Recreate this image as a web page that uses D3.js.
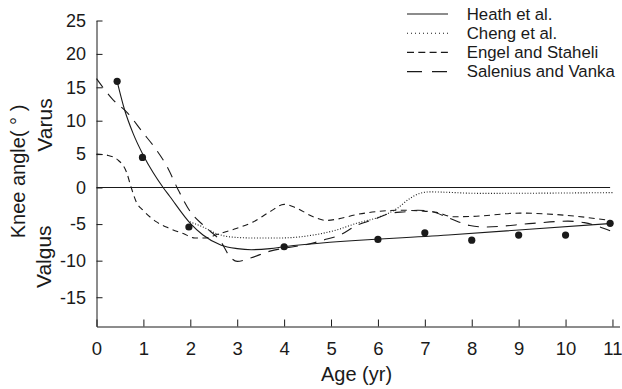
<!DOCTYPE html>
<html>
<head>
<meta charset="utf-8">
<script src="https://cdn.jsdelivr.net/npm/d3@7"></script>
<style>
  body { margin: 0; background: #fff; }
  svg { display: block; font-family: 'Liberation Sans', Arial, sans-serif; }
  .axis path, .axis line { stroke: #1a1a1a; stroke-width: 1px; }
  .axis text { fill: #1a1a1a; font-size: 18px; }
  .axis.x-axis text { font-size: 18.5px; }
  .curve { fill: none; stroke: #1a1a1a; stroke-width: 1.1px; }
</style>
</head>
<body>
<svg id="chart" width="622" height="389"></svg>
<script>
// Heath et al. (solid curve + measured dots)
const heathAge = [0.44, 0.6, 0.78, 1.0, 1.21, 1.42, 1.56, 2.0, 2.27, 2.66, 3.0, 3.3, 3.7, 4.0, 7.5, 11];
const heathVal = [15.9, 11.6, 8.1, 4.8, 2.2, 0, -1.2, -4.9, -6.5, -7.9, -8.35, -8.5, -8.35, -8.1, -6.5, -4.9];
const dotAge = [0.44, 0.98, 1.97, 4, 6, 7, 8, 9, 10, 10.95];
const dotVal = [15.9, 4.5, -5.4, -8.1, -7.1, -6.2, -7.2, -6.5, -6.5, -4.9];

// Cheng et al. (dotted)
const chengAge = [1.99, 2.27, 2.56, 2.84, 3.34, 3.91, 4.62, 5.12, 5.54, 6.04, 6.4, 6.68, 6.89, 7.1, 8.17, 11];
const chengVal = [-4.7, -5.4, -6.3, -6.75, -6.9, -6.9, -6.5, -5.8, -4.9, -4.0, -2.9, -1.5, -0.8, -0.6, -0.8, -0.7];

// Engel and Staheli (short dashes)
const engelAge = [0, 0.25, 0.46, 0.64, 0.74, 0.85, 0.99, 1.28, 1.56, 1.85, 2.1, 2.3, 2.63, 2.98, 3.34, 3.7, 4.0, 4.26, 4.62, 4.9, 5.15, 5.54, 5.97, 6.47, 6.89, 7.25, 7.6, 8.03, 9.03, 10.0, 10.95];
const engelVal = [5.0, 4.8, 4.1, 2.3, 0, -2.0, -3.1, -4.7, -5.6, -6.3, -6.9, -6.9, -6.3, -5.6, -4.7, -3.3, -2.3, -2.8, -4.0, -4.5, -4.3, -3.7, -3.3, -3.1, -3.2, -3.4, -4.0, -3.95, -3.5, -3.8, -4.5];

// Salenius and Vanka (long dashes)
const saleniusAge = [0, 0.33, 0.67, 0.98, 1.26, 1.5, 1.74, 2.0, 2.3, 2.65, 2.85, 3.0, 3.3, 3.7, 4.0, 4.55, 4.83, 5.19, 5.54, 5.9, 6.25, 6.6, 6.85, 7.15, 7.53, 7.96, 8.3, 9.3, 10.05, 10.4, 10.95];
const saleniusVal = [16.3, 13.3, 11.1, 8.3, 5.8, 3.2, -0.3, -3.3, -5.3, -7.4, -9.5, -10.1, -9.6, -8.7, -8.3, -7.7, -7.2, -6.5, -5.2, -4.4, -3.55, -3.3, -3.1, -3.3, -4.2, -5.2, -5.4, -4.9, -4.6, -4.8, -5.9];

const xTicks = [0, 1, 2, 3, 4, 5, 6, 7, 8, 9, 10, 11];
const yTicks = [-15, -10, -5, 0, 5, 10, 15, 20, 25];
const zeroLineEnd = 10.95;

const seriesNames = ['Heath et al.', 'Cheng et al.', 'Engel and Staheli', 'Salenius and Vanka'];

const svg = d3.select('#chart');
const color = '#1a1a1a';

// Set the ranges (below zero the original axis is stretched a little)
const xScale = d3.scaleLinear().domain([0, 11.15]).range([96.5, 619.5]);
const yScale = d3.scaleLinear().domain([-19, 0, 25]).range([326.5, 187.5, 20.5]);

// Define the axes
svg
  .append('g')
  .attr('class', 'axis x-axis')
  .attr('transform', 'translate(0,326.5)')
  .call(
    d3.axisBottom(xScale)
      .tickValues(xTicks)
      .tickSize(-7)
      .tickSizeOuter(0)
      .tickPadding(15)
      .tickFormat((d) => String(d))
  );

svg
  .append('g')
  .attr('class', 'axis')
  .attr('transform', 'translate(96.5,0)')
  .call(
    d3.axisLeft(yScale)
      .tickValues(yTicks)
      .tickSize(-6)
      .tickSizeOuter(0)
      .tickPadding(10.5)
      .tickFormat((d) => String(d))
  );

svg.selectAll('.axis .domain').attr('fill', 'none');

// zero reference line
svg
  .append('line')
  .attr('x1', xScale(0))
  .attr('x2', xScale(zeroLineEnd))
  .attr('y1', yScale(0))
  .attr('y2', yScale(0))
  .attr('stroke', color)
  .attr('stroke-width', 1);

const line = d3
  .line()
  .x((d) => xScale(d[0]))
  .y((d) => yScale(d[1]))
  .curve(d3.curveMonotoneX);

const series = [
  { age: heathAge, val: heathVal, dash: null, legendDash: null },
  { age: chengAge, val: chengVal, dash: '1,1.8', legendDash: '1,3' },
  { age: engelAge, val: engelVal, dash: '6,4.5', legendDash: '7,4.3' },
  { age: saleniusAge, val: saleniusVal, dash: '11,8', legendDash: '15,10' },
];

// draw the lines
series.forEach((s) => {
  svg
    .append('path')
    .datum(d3.zip(s.age, s.val))
    .attr('class', 'curve')
    .attr('stroke-dasharray', s.dash)
    .attr('d', line);
});

// measured dots
svg
  .selectAll('.dot')
  .data(d3.zip(dotAge, dotVal))
  .enter()
  .append('circle')
  .attr('class', 'dot')
  .attr('cx', (d) => xScale(d[0]))
  .attr('cy', (d) => yScale(d[1]))
  .attr('r', 3.6)
  .attr('fill', color);

// legend
const legend = svg.append('g').attr('transform', 'translate(407,14)');
series.forEach((s, i) => {
  const row = legend.append('g').attr('transform', `translate(0,${i * 19.2})`);
  row
    .append('line')
    .attr('x1', 0)
    .attr('x2', 41)
    .attr('stroke', color)
    .attr('stroke-width', 1.1)
    .attr('stroke-dasharray', s.legendDash);
  row
    .append('text')
    .attr('x', 59.7)
    .attr('dy', '0.35em')
    .attr('font-size', '16.8px')
    .attr('fill', color)
    .text(seriesNames[i]);
});

// axis titles
svg
  .append('text')
  .attr('x', 356.5)
  .attr('y', 381)
  .attr('text-anchor', 'middle')
  .attr('font-size', '20px')
  .attr('fill', color)
  .text('Age (yr)');

svg
  .append('text')
  .attr('transform', 'translate(24.5,171.5) rotate(-90)')
  .attr('text-anchor', 'middle')
  .attr('font-size', '20px')
  .attr('fill', color)
  .text('Knee angle( ° )');

svg
  .append('text')
  .attr('transform', 'translate(52,125) rotate(-90)')
  .attr('text-anchor', 'middle')
  .attr('font-size', '21px')
  .attr('fill', color)
  .text('Varus');

svg
  .append('text')
  .attr('transform', 'translate(50.5,256.7) rotate(-90)')
  .attr('text-anchor', 'middle')
  .attr('font-size', '21px')
  .attr('fill', color)
  .text('Valgus');
</script>
</body>
</html>
